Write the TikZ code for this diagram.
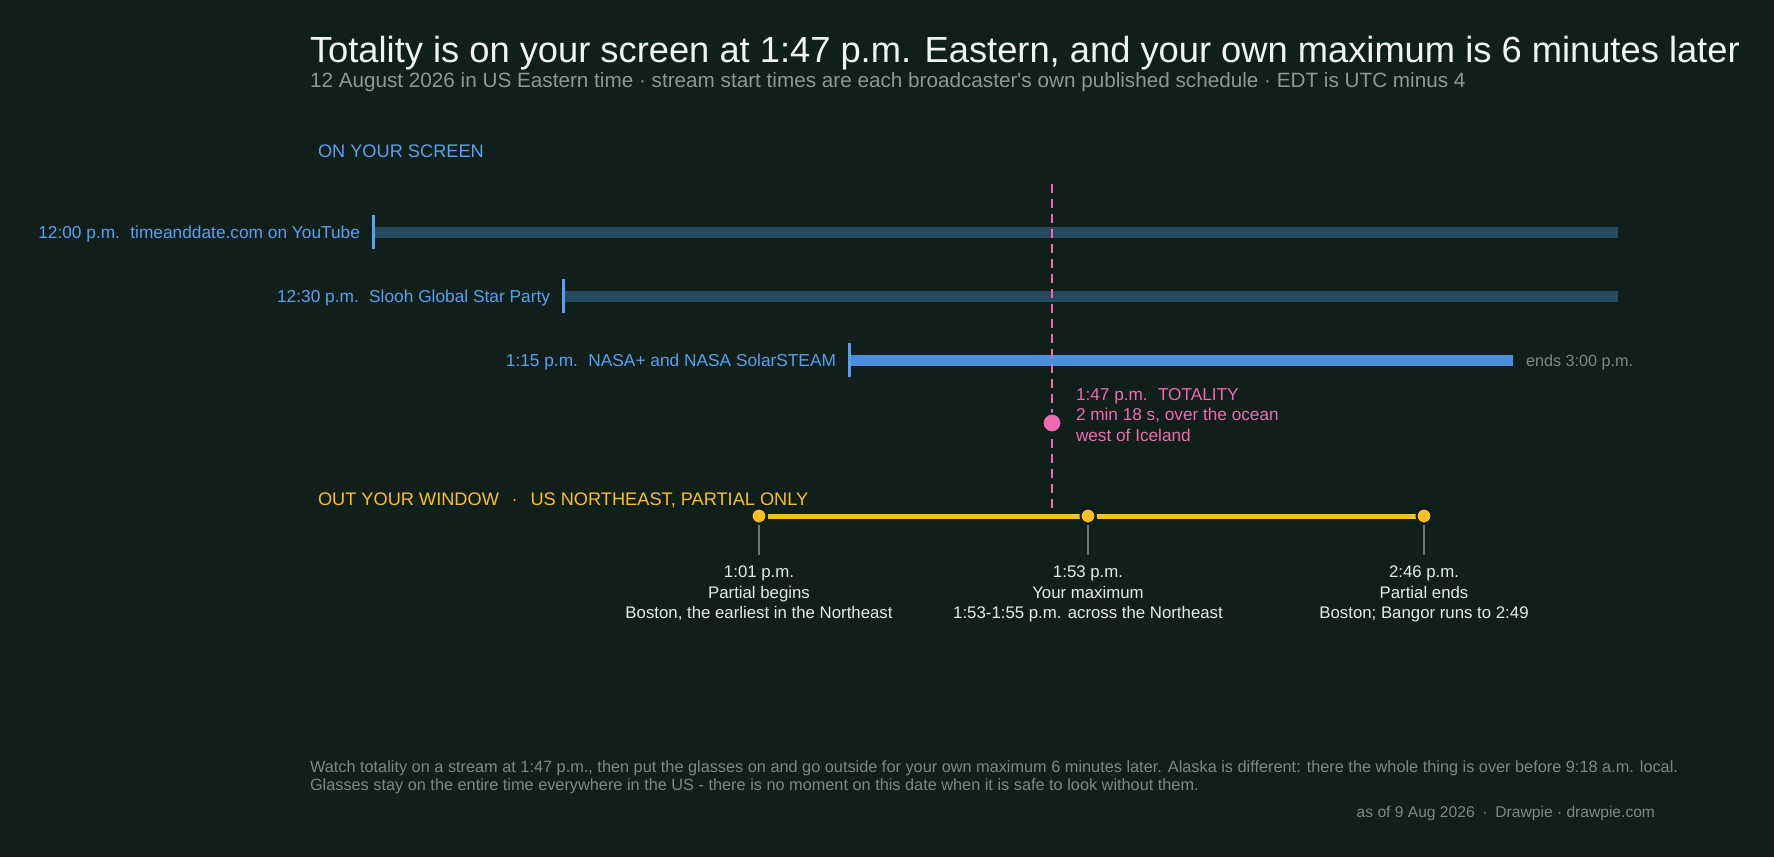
\documentclass[tikz,border=0pt]{standalone}
\usepackage{fontspec}
\setmainfont{Liberation Sans}
\definecolor{bg}{HTML}{101F19}
\definecolor{titlec}{HTML}{F2F4F3}
\definecolor{subc}{HTML}{8E9893}
\definecolor{bluec}{HTML}{5AA0F0}
\definecolor{dimbar}{HTML}{264A5E}
\definecolor{nasabar}{HTML}{4A8FDB}
\definecolor{pinkc}{HTML}{F06AB2}
\definecolor{yellowc}{HTML}{FBBF24}
\definecolor{labc}{HTML}{E6E9E7}
\definecolor{tickc}{HTML}{6E7873}
\definecolor{footc}{HTML}{7E8883}
\tikzset{
  txt/.style={inner sep=0pt, outer sep=0pt},
  ttl/.style={txt, text=titlec, font=\fontsize{36.3}{40}\selectfont},
  subt/.style={txt, text=subc, font=\fontsize{20.7}{24}\selectfont},
  sect/.style={txt, font=\fontsize{18.2}{21}\selectfont},
  rowlbl/.style={txt, text=bluec, font=\fontsize{17.3}{20}\selectfont},
  dimline/.style={dimbar, line width=11pt},
  nasaline/.style={nasabar, line width=11pt},
  starttick/.style={bluec, line width=3pt},
  totline/.style={pinkc, line width=2.8pt, dash pattern=on 9pt off 6pt},
  ptl/.style={yellowc, line width=5pt},
  ydot/.style={circle, fill=yellowc, draw=bg, line width=2pt, minimum size=15pt, inner sep=0pt},
  pdot/.style={circle, fill=pinkc, draw=bg, line width=2pt, minimum size=19pt, inner sep=0pt},
  gtick/.style={tickc, line width=1.5pt},
  evlbl/.style={txt, text=labc, align=center, font=\fontsize{16.8}{20.3}\selectfont},
  totlbl/.style={txt, text=pinkc, align=left, font=\fontsize{17.2}{20.5}\selectfont},
  foot/.style={txt, text=footc, align=left, font=\fontsize{16.3}{18.5}\selectfont},
}
\begin{document}
\begin{tikzpicture}[x=1pt,y=-1pt]
\fill[bg] (0,0) rectangle (1774,857);
\useasboundingbox (0,0) rectangle (1774,857);

\node[ttl, anchor=base west] (title) at (310,62) {Totality is on your screen at 1:47 p.m. Eastern, and your own maximum is 6 minutes later};
\node[subt, anchor=base west] (sub) at (310,87) {12 August 2026 in US Eastern time · stream start times are each broadcaster\textquotesingle s own published schedule · EDT is UTC minus 4};

\node[sect, text=bluec, anchor=base west] (secscreen) at (318,157) {ON YOUR SCREEN};

% stream rows
\coordinate (s1) at (373,232); \coordinate (e1) at (1618,232);
\coordinate (s2) at (563,296); \coordinate (e2) at (1618,296);
\coordinate (s3) at (849,360); \coordinate (e3) at (1513,360);
\draw[dimline] (s1) -- (e1);
\draw[dimline] (s2) -- (e2);
\draw[nasaline] (s3) -- (e3);
\draw[starttick] ([yshift=-17pt]s1) -- ([yshift=17pt]s1);
\draw[starttick] ([yshift=-17pt]s2) -- ([yshift=17pt]s2);
\draw[starttick] ([yshift=-17pt]s3) -- ([yshift=17pt]s3);
\node[rowlbl, anchor=base east] (l1) at (360,238) {12:00 p.m.\hspace{0.6em}timeanddate.com on YouTube};
\node[rowlbl, anchor=base east] (l2) at (550,302) {12:30 p.m.\hspace{0.6em}Slooh Global Star Party};
\node[rowlbl, anchor=base east] (l3) at (836,366) {1:15 p.m.\hspace{0.6em}NASA+ and NASA SolarSTEAM};
\node[txt, text=footc, font=\fontsize{16.2}{19}\selectfont, anchor=base west] (end3) at (1526,366) {ends 3:00 p.m.};

% totality
\coordinate (tt) at (1052,184); \coordinate (tb) at (1052,516);
\draw[totline] (tt) -- (tb);
\node[pdot] (tdot) at (1052,423) {};
\node[totlbl, anchor=north west] (tlbl) at (1076,388) {1:47 p.m.\hspace{0.6em}TOTALITY\\2 min 18 s, over the ocean\\west of Iceland};

% window
\node[sect, text=yellowc, anchor=base west] (secwin) at (318,505) {OUT YOUR WINDOW\hspace{0.7em}·\hspace{0.7em}US NORTHEAST, PARTIAL ONLY};
\coordinate (k1) at (759,555); \coordinate (k2) at (1088,555); \coordinate (k3) at (1424,555);
\node[ydot] (d1) at (759,516) {};
\node[ydot] (d2) at (1088,516) {};
\node[ydot] (d3) at (1424,516) {};
\draw[gtick] (d1.south) -- (k1);
\draw[gtick] (d2.south) -- (k2);
\draw[gtick] (d3.south) -- (k3);
\draw[ptl] (d1) -- (d2);
\draw[ptl] (d2) -- (d3);
\node[ydot] at (d1) {};
\node[ydot] at (d2) {};
\node[ydot] at (d3) {};
\node[evlbl, anchor=north] (ev1) at (759,566) {1:01 p.m.\\Partial begins\\Boston, the earliest in the Northeast};
\node[evlbl, anchor=north] (ev2) at (1088,566) {1:53 p.m.\\Your maximum\\1:53-1:55 p.m. across the Northeast};
\node[evlbl, anchor=north] (ev3) at (1424,566) {2:46 p.m.\\Partial ends\\Boston; Bangor runs to 2:49};

% footer
\node[foot, anchor=base west] (f1) at (310,772) {Watch totality on a stream at 1:47 p.m., then put the glasses on and go outside for your own maximum 6 minutes later. Alaska is different: there the whole thing is over before 9:18 a.m. local.};
\node[foot, anchor=base west] (f2) at (310,790) {Glasses stay on the entire time everywhere in the US - there is no moment on this date when it is safe to look without them.};
\node[txt, text=footc, font=\fontsize{15.6}{18}\selectfont, anchor=base east] (credit) at (1655,817) {as of 9 Aug 2026\hspace{0.5em}·\hspace{0.5em}Drawpie · drawpie.com};
\end{tikzpicture}
\end{document}
